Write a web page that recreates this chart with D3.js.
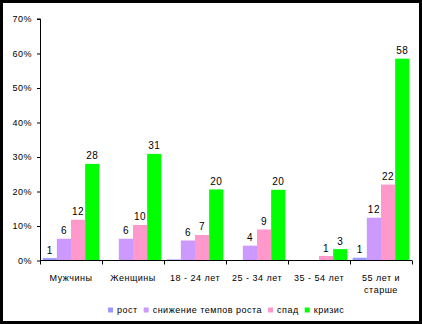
<!DOCTYPE html>
<html><head><meta charset="utf-8">
<script src="https://cdn.jsdelivr.net/npm/d3@7"></script>
<style>
html,body{margin:0;padding:0;background:#000;}
svg{display:block;}
text{font-family:"Liberation Sans",Arial,sans-serif;fill:#000;}
</style></head><body>
<script>
const categories = ["Мужчины", "Женщины", "18 - 24 лет", "25 - 34 лет", "35 - 54 лет", "55 лет и старше"];
const categoryLines = [["Мужчины"], ["Женщины"], ["18 - 24 лет"], ["25 - 34 лет"], ["35 - 54 лет"], ["55 лет и", "старше"]];
const seriesNames = ["рост", "снижение темпов роста", "спад", "кризис"];
const seriesColors = ["#9999ff", "#cc99ff", "#ff99cc", "#00ff00"];
const rost     = [0.7, 0,    0.3, 0,   0,   0.8];
const snizhenie= [6.3, 6.3,  5.8, 4.3, 0,   12.4];
const spad     = [11.8, 10.3, 7.4, 9.0, 1.3, 22.0];
const krizis   = [28.0, 30.9, 20.6, 20.5, 3.3, 58.5];
const labelRost      = ["1", "", "", "", "", "1"];
const labelSnizhenie = ["6", "6", "6", "4", "", "12"];
const labelSpad      = ["12", "10", "7", "9", "1", "22"];
const labelKrizis    = ["28", "31", "20", "20", "3", "58"];
const yTicks = [0, 10, 20, 30, 40, 50, 60, 70];

const seriesValues = [rost, snizhenie, spad, krizis];
const seriesLabels = [labelRost, labelSnizhenie, labelSpad, labelKrizis];

const W = 422, H = 324;
const svg = d3.select("body").append("svg").attr("width", W).attr("height", H);
svg.append("rect").attr("x", 0).attr("y", 0).attr("width", W).attr("height", H).attr("fill", "#000");
svg.append("rect").attr("x", 3).attr("y", 3).attr("width", W - 6).attr("height", H - 6).attr("fill", "#fff");

const y = d3.scaleLinear().domain([0, 70]).range([260.5, 19]);
const x0 = d3.scaleBand().domain(categories).range([40, 412]).paddingInner(0).paddingOuter(0);
const x1 = d3.scaleBand().domain(seriesNames).range([0, x0.bandwidth()]).paddingInner(0).paddingOuter(0.19);

const fs = "9px", ls = "0.5px";

// bars
const g = svg.append("g");
seriesNames.forEach((s, si) => {
  categories.forEach((c, ci) => {
    const v = seriesValues[si][ci];
    if (v > 0) {
      g.append("rect")
        .attr("x", x0(c) + x1(s))
        .attr("y", y(v))
        .attr("width", x1.bandwidth())
        .attr("height", y(0) - y(v))
        .attr("fill", seriesColors[si]);
    }
    const lab = seriesLabels[si][ci];
    if (lab) {
      g.append("text")
        .attr("x", x0(c) + x1(s) + x1.bandwidth() / 2)
        .attr("y", y(v) - 4.5)
        .attr("text-anchor", "middle")
        .style("font-size", "10px").style("letter-spacing", ls)
        .text(lab);
    }
  });
});

// y axis
const yAxis = d3.axisLeft(y).tickValues(yTicks).tickSize(3).tickPadding(5).tickFormat(d => d + "%");
const ya = svg.append("g").attr("transform", "translate(40,0)").call(yAxis);
ya.select(".domain").attr("stroke", "#000").attr("d", `M-3,${y(70)}H0.5V${y(0)}`);
ya.selectAll("text").style("font-size", fs).style("letter-spacing", ls).attr("font-family", null);

// x axis
const xa = svg.append("g").attr("transform", `translate(0,${y(0)})`);
xa.append("line").attr("x1", 40).attr("x2", 412).attr("y1", 0).attr("y2", 0).attr("stroke", "#000");
const tickPos = categories.map(c => x0(c)).concat([x0(categories[categories.length - 1]) + x0.bandwidth()]);
xa.selectAll("line.tk").data(tickPos).enter().append("line")
  .attr("class", "tk").attr("x1", d => Math.round(d) + 0.5).attr("x2", d => Math.round(d) + 0.5)
  .attr("y1", 0).attr("y2", 4).attr("stroke", "#000");
categories.forEach((c, ci) => {
  const t = xa.append("text").attr("x", x0(c) + x0.bandwidth() / 2).attr("y", 20)
    .attr("text-anchor", "middle").style("font-size", fs).style("letter-spacing", ls);
  categoryLines[ci].forEach((ln, li) => {
    t.append("tspan").attr("x", x0(c) + x0.bandwidth() / 2).attr("dy", li === 0 ? 0 : 12.5).text(ln);
  });
});

// legend
const lg = svg.append("g").attr("transform", "translate(0,310)");
let cx = 108;
seriesNames.forEach((s, si) => {
  lg.append("rect").attr("x", cx).attr("y", -2.5).attr("width", 5).attr("height", 5).attr("fill", seriesColors[si]);
  const t = lg.append("text").attr("x", cx + 9).attr("y", 3.3).style("font-size", fs).style("letter-spacing", ls).text(s);
  cx = cx + 9 + t.node().getComputedTextLength() + 6;
});
</script>
</body></html>
